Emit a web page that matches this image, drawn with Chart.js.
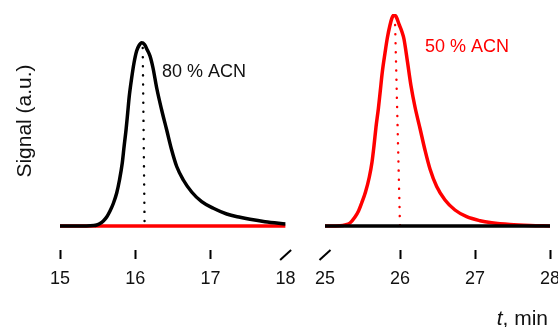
<!DOCTYPE html>
<html>
<head>
<meta charset="utf-8">
<script src="https://cdn.jsdelivr.net/npm/chart.js@4.4.1/dist/chart.umd.min.js"></script>
<style>
  html, body { margin: 0; padding: 0; background: #fff; overflow: hidden; }
  body { width: 558px; height: 327px; position: relative; }
  canvas { position: absolute; top: 0; }
  #chartLeft { left: 0; }
  #chartRight { left: 300px; }
</style>
</head>
<body>
<canvas id="chartLeft" width="300" height="327"></canvas>
<canvas id="chartRight" width="270" height="327"></canvas>
<script>
// tick labels of the two halves of the broken time axis (min)
const leftTicks = [15, 16, 17, 18];
const rightTicks = [25, 26, 27, 28];

// 80 % ACN run (black trace)
const times80 = [15.0, 15.35, 15.45, 15.488, 15.532, 15.576, 15.621, 15.665, 15.709, 15.754,
  15.791, 15.828, 15.853, 15.878, 15.9, 15.92, 15.953, 15.984, 16.019, 16.051,
  16.086, 16.124, 16.161, 16.197, 16.237, 16.286, 16.352, 16.419, 16.485, 16.552,
  16.64, 16.751, 16.884, 17.039, 17.217, 17.394, 17.527, 17.726, 18.0];
const signal80 = [0, 0, 0.4, 1, 2.5, 5, 9, 15, 22.5, 33,
  46, 63, 80, 96, 113, 129, 148, 163, 175, 180.5,
  183.3, 181.5, 176, 170, 158, 138, 116, 96, 76, 59.5,
  46, 34, 24.3, 17.7, 12, 8.7, 6.7, 4.3, 2];

// 50 % ACN run (red trace)
const times50 = [25.0, 25.2, 25.267, 25.333, 25.4, 25.447, 25.489, 25.54, 25.591, 25.627,
  25.653, 25.68, 25.711, 25.737, 25.764, 25.8, 25.831, 25.867, 25.893, 25.92,
  25.947, 25.991, 26.027, 26.053, 26.1, 26.147, 26.2, 26.267, 26.333, 26.4,
  26.489, 26.6, 26.733, 26.889, 27.067, 27.223, 27.467, 27.733, 28.0];
const signal50 = [0, 0.3, 1, 3, 9, 15, 23, 34, 49, 64,
  80, 99, 117, 135, 154, 173, 188, 201, 208, 211,
  209.5, 201, 194, 187, 164, 140, 119, 97.5, 76, 57,
  39.5, 26, 16, 9.3, 5.3, 3.3, 1.5, 0.5, 0];

// flat trace of the other run in each window
const flatLeftTimes = [15, 18];
const flatLeftSignal = [0, 0];
const flatRightTimes = [25, 28];
const flatRightSignal = [0, 0];

// dotted markers dropped from the peak apex
const apex80Times = [16.1, 16.125];
const apex80Signal = [178, 0];
const apex50Times = [25.935, 26.0];
const apex50Signal = [201, 0];

const FONT = "'Liberation Sans', Arial, Helvetica, sans-serif";
Chart.defaults.font.family = FONT;

const toPoints = (xs, ys) => xs.map((x, i) => ({ x: x, y: ys[i] }));

function curve(xs, ys, color) {
  return {
    data: toPoints(xs, ys),
    borderColor: color,
    borderWidth: 3.5,
    pointRadius: 0,
    fill: false,
    cubicInterpolationMode: "monotone",
  };
}

function dotted(xs, ys, color) {
  return {
    data: toPoints(xs, ys),
    borderColor: color,
    borderWidth: 2.4,
    borderDash: [0.1, 9],
    borderCapStyle: "round",
    pointRadius: 0,
    fill: false,
  };
}

// slash at the axis break, peak label and the "t, min" title
const brokenAxisPlugin = {
  id: "brokenAxis",
  afterDraw(chart, args, opts) {
    const { ctx, chartArea } = chart;
    const xScale = chart.scales.x;
    const yScale = chart.scales.y;
    ctx.save();

    const bx = xScale.getPixelForValue(opts.breakAt);
    const top = chartArea.bottom + 22;
    ctx.strokeStyle = "#000";
    ctx.lineWidth = 2;
    ctx.beginPath();
    ctx.moveTo(bx - 5.5, top + 10);
    ctx.lineTo(bx + 5.5, top);
    ctx.stroke();

    ctx.font = "18px " + FONT;
    ctx.fillStyle = opts.labelColor;
    ctx.textAlign = "left";
    ctx.textBaseline = "alphabetic";
    ctx.fillText(
      opts.label,
      xScale.getPixelForValue(opts.labelAt[0]),
      yScale.getPixelForValue(opts.labelAt[1])
    );

    if (opts.axisTitle) {
      const italic = "italic 21px " + FONT;
      const normal = "21px " + FONT;
      ctx.fillStyle = "#111";
      ctx.font = normal;
      const restWidth = ctx.measureText(", min").width;
      ctx.font = italic;
      const tWidth = ctx.measureText("t").width;
      const xEnd = xScale.right - 2;
      const base = chart.height - 2;
      ctx.fillText("t", xEnd - restWidth - tWidth, base);
      ctx.font = normal;
      ctx.fillText(", min", xEnd - restWidth, base);
    }
    ctx.restore();
  },
};

function xAxis(min, max, ticks, breakAt) {
  return {
    type: "linear",
    min: min,
    max: max,
    afterBuildTicks: (scale) => {
      scale.ticks = ticks.map((v) => ({ value: v }));
    },
    border: { display: false },
    grid: {
      display: true,
      drawOnChartArea: false,
      drawTicks: true,
      tickLength: 36,
      tickWidth: 2,
      tickBorderDash: [0, 22, 9, 200],
      tickColor: (c) => (c.tick && c.tick.value === breakAt ? "rgba(0,0,0,0)" : "#000"),
    },
    ticks: {
      color: "#111",
      font: { size: 18 },
      padding: 4,
      maxRotation: 0,
      autoSkip: false,
    },
  };
}

function criarGrafico(canvasId, datasets, xScaleOpts, yScaleOpts, padding, extras) {
  return new Chart(document.getElementById(canvasId).getContext("2d"), {
    type: "line",
    data: { datasets: datasets },
    options: {
      responsive: false,
      animation: false,
      events: [],
      layout: { padding: padding },
      plugins: {
        legend: { display: false },
        tooltip: { enabled: false },
        brokenAxis: extras,
      },
      scales: { x: xScaleOpts, y: yScaleOpts },
    },
    plugins: [brokenAxisPlugin],
  });
}

criarGrafico(
  "chartLeft",
  [
    curve(times80, signal80, "#000"),
    dotted(apex80Times, apex80Signal, "#000"),
    curve(flatLeftTimes, flatLeftSignal, "#ff0000"),
  ],
  xAxis(15, 18, leftTicks, 18),
  {
    min: -2,
    max: 212,
    display: true,
    border: { display: false },
    grid: { display: false, drawTicks: false },
    ticks: { display: false },
    title: {
      display: true,
      text: "Signal (a.u.)",
      color: "#111",
      font: { size: 21, lineHeight: 1 },
      padding: { top: 15, bottom: 24 },
    },
  },
  { top: 14, left: 0, right: 14.4, bottom: 33.4 },
  { breakAt: 18, label: "80 % ACN", labelAt: [16.356, 149.5], labelColor: "#111", axisTitle: false }
);

criarGrafico(
  "chartRight",
  [
    curve(flatRightTimes, flatRightSignal, "#000"),
    curve(times50, signal50, "#ff0000"),
    dotted(apex50Times, apex50Signal, "#ff0000"),
  ],
  xAxis(25, 28, rightTicks, 25),
  { min: -2, max: 212, display: false },
  { top: 14, left: 25, right: 20, bottom: 33.4 },
  { breakAt: 25, label: "50 % ACN", labelAt: [26.333, 174.3], labelColor: "#ff0000", axisTitle: true }
);
</script>
</body>
</html>
